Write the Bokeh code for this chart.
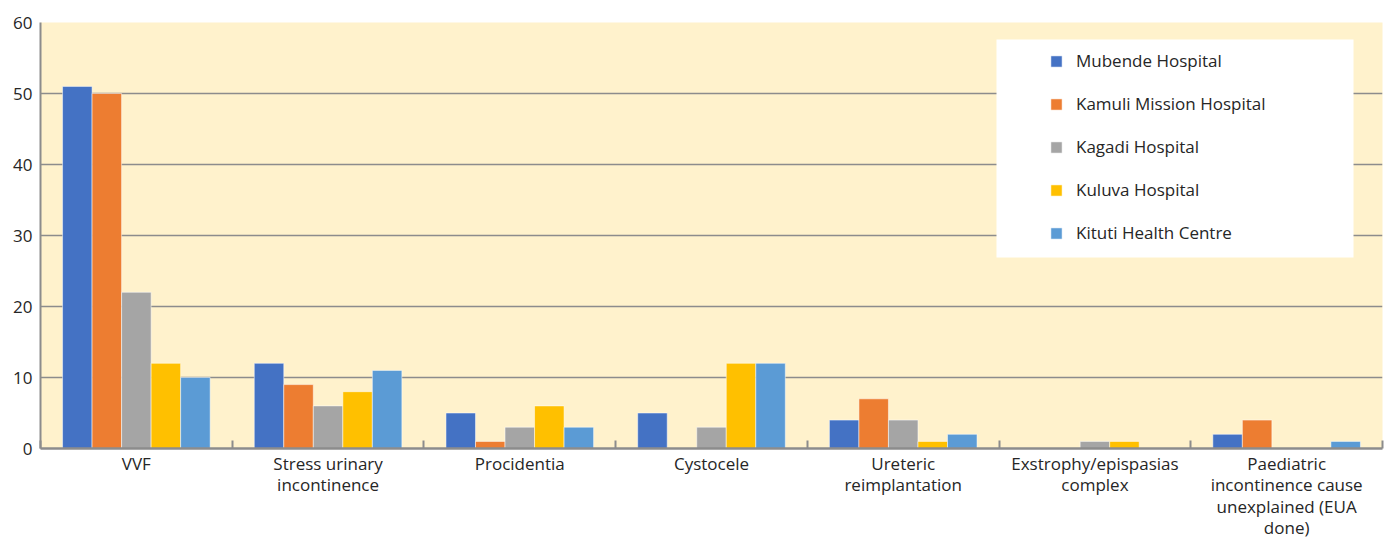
from bokeh.plotting import figure
from bokeh.models import Range1d, FixedTicker, ColumnDataSource, Legend, LegendItem, BoxAnnotation
from bokeh.embed import file_html
from bokeh.resources import INLINE

categories = ["VVF", "Stress urinary\nincontinence", "Procidentia", "Cystocele",
              "Ureteric\nreimplantation", "Exstrophy/epispasias\ncomplex",
              "Paediatric\nincontinence cause\nunexplained (EUA\ndone)"]
series_names = ["Mubende Hospital", "Kamuli Mission Hospital", "Kagadi Hospital",
                "Kuluva Hospital", "Kituti Health Centre"]
mubende = [51, 12, 5, 5, 4, 0, 2]
kamuli = [50, 9, 1, 0, 7, 0, 4]
kagadi = [22, 6, 3, 3, 4, 1, 0]
kuluva = [12, 8, 6, 12, 1, 1, 0]
kituti = [10, 11, 3, 12, 2, 0, 1]
y_ticks = [0, 10, 20, 30, 40, 50, 60]

series_values = [mubende, kamuli, kagadi, kuluva, kituti]
colors = ["#4472C4", "#ED7D31", "#A5A5A5", "#FFC000", "#5B9BD5"]
FONT = "Open Sans"

n = len(categories)
p = figure(width=1389, height=542, output_backend="svg", toolbar_location=None,
           x_range=Range1d(0, n), y_range=Range1d(0, 60),
           min_border_left=40, min_border_right=7, min_border_top=22, min_border_bottom=94)
p.border_fill_color = "white"
p.background_fill_color = "#FFF2CC"
p.outline_line_color = None

bw = 0.154
items = []
for j, (name, vals, c) in enumerate(zip(series_names, series_values, colors)):
    xs = [i + 0.5 + (j - 2) * bw for i in range(n)]
    src = ColumnDataSource(dict(x=xs, top=vals))
    r = p.vbar(x="x", top="top", width=bw, source=src, fill_color=c,
               line_color="white", line_alpha=0.5, line_width=1)
    items.append(LegendItem(label=name, renderers=[r]))

# y axis
p.xgrid.grid_line_color = None
p.ygrid.grid_line_color = "#8C8C8C"
p.ygrid.grid_line_width = 1.3
p.yaxis.ticker = FixedTicker(ticks=y_ticks)
p.yaxis.axis_line_color = "#8C8C8C"
p.yaxis.axis_line_width = 2
p.yaxis.major_tick_in = 0
p.yaxis.major_tick_out = 0
p.yaxis.minor_tick_line_color = None
p.yaxis.major_label_standoff = 8
p.yaxis.major_label_text_font = FONT
p.yaxis.major_label_text_font_size = "17px"
p.yaxis.major_label_text_color = "#262626"

# x axis: labels at category centres, ticks at category boundaries
centers = [i + 0.5 for i in range(n)]
p.xaxis.ticker = FixedTicker(ticks=centers, minor_ticks=list(range(n + 1)))
p.xaxis.major_label_overrides = {c: lab for c, lab in zip(centers, categories)}
p.xaxis.axis_line_color = "#8C8C8C"
p.xaxis.axis_line_width = 2.5
p.xaxis.major_tick_line_color = None
p.xaxis.major_tick_in = 0
p.xaxis.major_tick_out = 0
p.xaxis.minor_tick_line_color = "#8C8C8C"
p.xaxis.minor_tick_line_width = 2
p.xaxis.minor_tick_in = 8
p.xaxis.minor_tick_out = 0
p.xaxis.major_label_standoff = 3
p.xaxis.major_label_text_font = FONT
p.xaxis.major_label_text_font_size = "17px"
p.xaxis.major_label_text_color = "#262626"
p.xaxis.major_label_text_line_height = 0.94

# legend box
box = BoxAnnotation(left=956, right=1313, bottom=191, top=409,
                    left_units="screen", right_units="screen",
                    bottom_units="screen", top_units="screen",
                    fill_color="white", fill_alpha=1, line_color=None, level="annotation")
p.add_layout(box)

legend = Legend(items=items, location=(1009, 204), padding=0, margin=0, spacing=20,
                glyph_width=14, glyph_height=14, label_height=20, label_standoff=13,
                label_text_font=FONT, label_text_font_size="17px", label_text_color="#262626",
                background_fill_alpha=0, border_line_color=None)
p.add_layout(legend, "center")

open("out.html", "w").write(file_html(p, INLINE))
